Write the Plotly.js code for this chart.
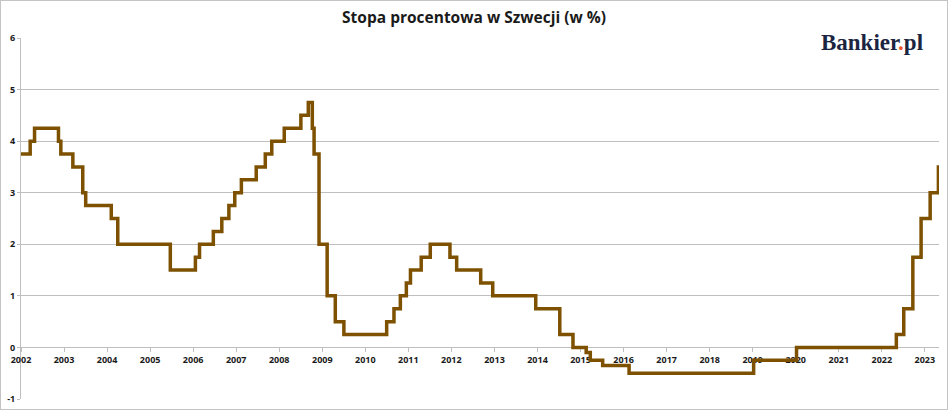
<!DOCTYPE html>
<html>
<head>
<meta charset="utf-8">
<script src="https://cdn.plot.ly/plotly-3.0.1.min.js"></script>
<style>
  html, body { margin: 0; padding: 0; background: #fff; }
  #plot { width: 946px; height: 408px; border: 1px solid #c4c4c4; }
</style>
</head>
<body>
<div id="plot"></div>
<script>
// Riksbank repo rate, dates of each change and the new level (%)
const changeDates = [
  "2002-01-01", "2002-03-20", "2002-04-26", "2002-11-15", "2002-12-05",
  "2003-03-17", "2003-06-09", "2003-07-04", "2004-02-06", "2004-04-01",
  "2005-06-21", "2006-01-20", "2006-02-24", "2006-06-21", "2006-09-01",
  "2006-10-31", "2006-12-20", "2007-02-14", "2007-06-20", "2007-09-05",
  "2007-10-30", "2008-02-13", "2008-07-03", "2008-09-04", "2008-10-08",
  "2008-10-23", "2008-12-04", "2009-02-11", "2009-04-21", "2009-07-03",
  "2010-07-01", "2010-09-01", "2010-10-25", "2010-12-15", "2011-01-19",
  "2011-04-20", "2011-07-06", "2011-12-20", "2012-02-15", "2012-09-06",
  "2012-12-17", "2013-12-17", "2014-07-09", "2014-10-29", "2015-02-18",
  "2015-03-25", "2015-07-08", "2016-02-17", "2019-01-09", "2020-01-08",
  "2022-05-04", "2022-07-06", "2022-09-21", "2022-11-30", "2023-02-15",
  "2023-04-26", "2023-05-01"
];
const rates = [
  3.75, 4.00, 4.25, 4.00, 3.75,
  3.50, 3.00, 2.75, 2.50, 2.00,
  1.50, 1.75, 2.00, 2.25, 2.50,
  2.75, 3.00, 3.25, 3.50, 3.75,
  4.00, 4.25, 4.50, 4.75, 4.25,
  3.75, 2.00, 1.00, 0.50, 0.25,
  0.50, 0.75, 1.00, 1.25, 1.50,
  1.75, 2.00, 1.75, 1.50, 1.25,
  1.00, 0.75, 0.25, 0.00, -0.10,
  -0.25, -0.35, -0.50, -0.25, 0.00,
  0.25, 0.75, 1.75, 2.50, 3.00,
  3.50, 3.50
];

const xRange = ["2002-01-01", "2023-05-01"];
const yTickValues = [-1, 0, 1, 2, 3, 4, 5, 6];
const yTickLabels = ["-1", "0", "1", "2", "3", "4", "5", "6"];

const yRange = [yTickValues[0], yTickValues[yTickValues.length - 1]];
const grey = "#bfbfbf";
const tickFont = { family: "Open Sans, sans-serif", size: 9, color: "#1a1a1a", weight: "bold" };

const traces = [{
  type: "scatter",
  mode: "lines",
  x: changeDates,
  y: rates,
  line: { color: "#7d5100", width: 3.5, shape: "hv" },
  hoverinfo: "skip",
  showlegend: false
}];

const layout = {
  width: 946,
  height: 408,
  margin: { l: 20, r: 8, t: 37, b: 10 },
  paper_bgcolor: "#ffffff",
  plot_bgcolor: "#ffffff",
  title: {
    text: "<b>Stopa procentowa w Szwecji (w %)</b>",
    font: { family: "Open Sans, sans-serif", size: 15.5, color: "#1a1a1a" },
    x: 0.5,
    xref: "container",
    y: 1 - 17 / 408,
    yref: "container",
    yanchor: "middle"
  },
  xaxis: {
    type: "date",
    range: xRange,
    tick0: "2002-01-01",
    dtick: "M12",
    tickformat: "%Y",
    showgrid: false,
    zeroline: false,
    showline: true,
    linecolor: grey,
    linewidth: 1,
    ticks: "outside",
    ticklen: 4,
    tickcolor: grey,
    tickfont: tickFont,
    anchor: "free",
    position: (0 - yRange[0]) / (yRange[1] - yRange[0]),
    layer: "below traces",
    fixedrange: true
  },
  yaxis: {
    range: yRange,
    tickvals: yTickValues,
    ticktext: yTickLabels,
    showgrid: true,
    gridcolor: grey,
    gridwidth: 1,
    zeroline: false,
    showline: true,
    linecolor: grey,
    ticks: "outside",
    ticklen: 3,
    tickcolor: grey,
    tickfont: tickFont,
    layer: "below traces",
    fixedrange: true
  },
  annotations: [{
    text: "<b>Bankier<span style='color:#f0562a'>.</span>pl</b>",
    xref: "paper",
    yref: "paper",
    x: 1,
    y: 1,
    xanchor: "right",
    yanchor: "middle",
    yshift: -4,
    width: 130,
    height: 30,
    align: "center",
    bgcolor: "#ffffff",
    showarrow: false,
    font: { family: "Liberation Serif, serif", size: 23, color: "#1b2542" }
  }]
};

const config = { displayModeBar: false, staticPlot: true };

Plotly.newPlot("plot", traces, layout, config);
</script>
</body>
</html>
